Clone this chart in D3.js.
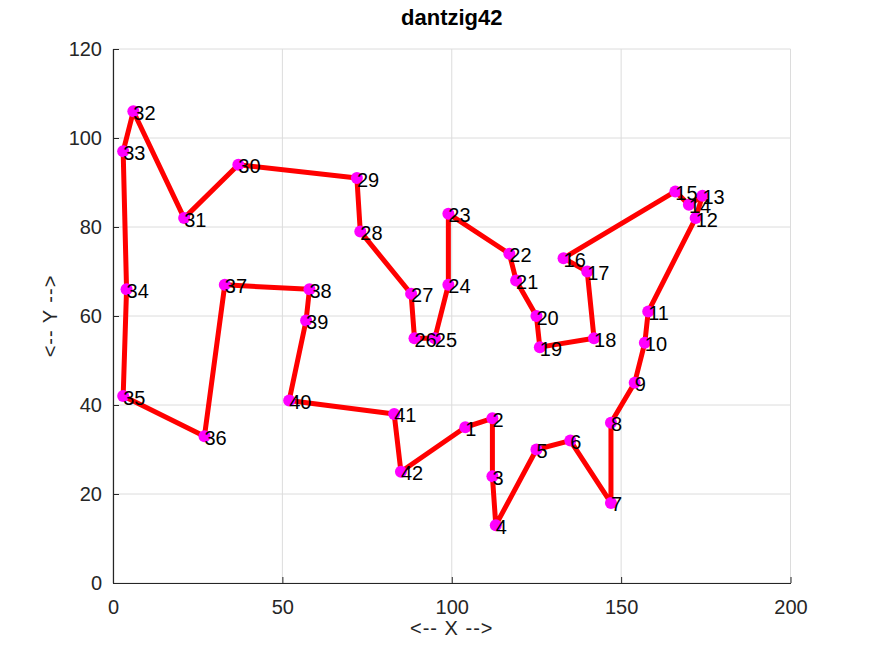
<!DOCTYPE html>
<html>
<head>
<meta charset="utf-8">
<script src="https://cdn.jsdelivr.net/npm/d3@7"></script>
<style>
  html, body { margin: 0; padding: 0; background: #fff; }
  svg { display: block; font-family: "Liberation Sans", Arial, Helvetica, sans-serif; }
</style>
</head>
<body>
<svg id="chart" width="873" height="655"></svg>
<script>
// Tour order labels and city coordinates (dantzig42)
const labels = d3.range(1, 43);
const xs = [104,112,112,113,125,135,147,147,154,157,158,172,174,170,166,133,140,142,126,125,119,117,99,99,95,89,88,73,72,37,21,6,3,4,3,27,33,58,57,52,83,85];
const ys = [35,37,24,13,30,32,18,36,45,54,61,82,87,85,88,73,70,55,53,60,68,74,83,67,55,55,65,79,91,94,82,106,97,66,42,33,67,66,59,41,38,25];
const xTicks = [0, 50, 100, 150, 200];
const yTicks = [0, 20, 40, 60, 80, 100, 120];
const title = "dantzig42";
const xLabel = "<-- X -->";
const yLabel = "<-- Y -->";

const svg = d3.select("#chart");
const L = 113, R = 790.5, T = 49, B = 583;
const x = d3.scaleLinear().domain([0, 200]).range([L, R]);
const y = d3.scaleLinear().domain([0, 120]).range([B, T]);
const axisColor = "#262626";

// grid
svg.append("g").selectAll("line.gx").data(xTicks).join("line")
  .attr("x1", d => x(d)).attr("x2", d => x(d)).attr("y1", T).attr("y2", B)
  .attr("stroke", "#dcdcdc").attr("stroke-width", 1);
svg.append("g").selectAll("line.gy").data(yTicks).join("line")
  .attr("x1", L).attr("x2", R).attr("y1", d => y(d)).attr("y2", d => y(d))
  .attr("stroke", "#dcdcdc").attr("stroke-width", 1);

// axes
const xAxis = svg.append("g").attr("transform", `translate(0,${B})`)
  .call(d3.axisBottom(x).tickValues(xTicks).tickSizeInner(-6).tickSizeOuter(0).tickPadding(17));
const yAxis = svg.append("g").attr("transform", `translate(${L},0)`)
  .call(d3.axisLeft(y).tickValues(yTicks).tickSizeInner(-6).tickSizeOuter(0).tickPadding(11));
[xAxis, yAxis].forEach(g => {
  g.select(".domain").attr("stroke", axisColor).attr("stroke-width", 1.2);
  g.selectAll(".tick line").attr("stroke", axisColor);
  g.selectAll(".tick text").attr("fill", axisColor).attr("font-size", 20)
    .attr("font-family", '"Liberation Sans", Arial, sans-serif');
});

// tour path (closed)
const pts = labels.map((l, i) => ({ l, x: xs[i], y: ys[i] }));
const line = d3.line().x(d => x(d.x)).y(d => y(d.y));
svg.append("path")
  .datum(pts.concat([pts[0]]))
  .attr("d", line)
  .attr("fill", "none").attr("stroke", "#ff0000").attr("stroke-width", 5)
  .attr("stroke-linejoin", "round");

// markers
svg.append("g").selectAll("circle").data(pts).join("circle")
  .attr("cx", d => x(d.x)).attr("cy", d => y(d.y)).attr("r", 6)
  .attr("fill", "#ff00ff");

// labels
svg.append("g").selectAll("text").data(pts).join("text")
  .attr("x", d => x(d.x)).attr("y", d => y(d.y) + 8.5)
  .attr("font-size", 20).attr("fill", "#000")
  .text(d => d.l);

// title and axis labels
svg.append("text").attr("x", (L + R) / 2).attr("y", 25).attr("text-anchor", "middle")
  .attr("font-size", 22).attr("font-weight", "bold").attr("fill", "#000").text(title);
svg.append("text").attr("x", (L + R) / 2).attr("y", 635).attr("text-anchor", "middle")
  .attr("font-size", 20).attr("letter-spacing", 1).attr("fill", axisColor).text(xLabel);
svg.append("text").attr("transform", `translate(57,${(T + B) / 2}) rotate(-90)`)
  .attr("text-anchor", "middle").attr("font-size", 20).attr("letter-spacing", 1)
  .attr("fill", axisColor).text(yLabel);
</script>
</body>
</html>
